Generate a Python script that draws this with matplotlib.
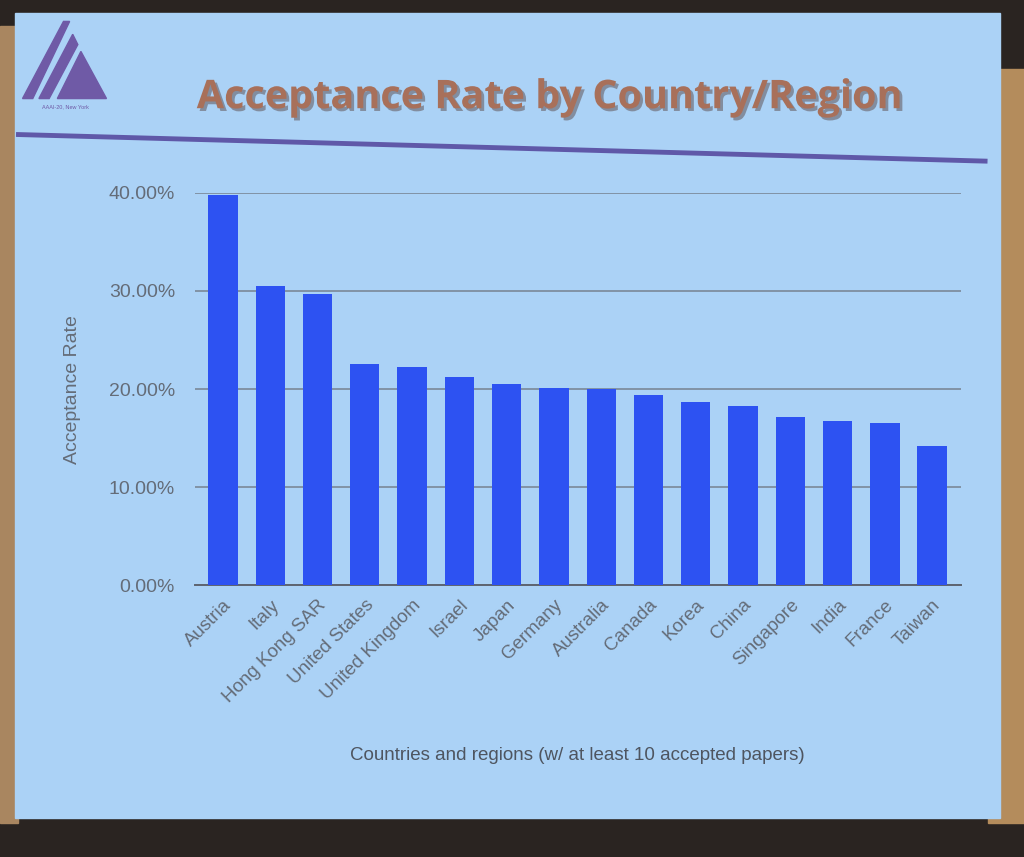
import matplotlib.pyplot as plt
import matplotlib.patches as mpatches
from matplotlib.ticker import FuncFormatter
import matplotlib.patheffects as pe

countries = ["Austria", "Italy", "Hong Kong SAR", "United States", "United Kingdom",
             "Israel", "Japan", "Germany", "Australia", "Canada", "Korea", "China",
             "Singapore", "India", "France", "Taiwan"]
rates = [39.8, 30.5, 29.7, 22.6, 22.3, 21.2, 20.5, 20.1, 20.0, 19.4, 18.7, 18.3,
         17.2, 16.7, 16.5, 14.2]
y_ticks = [0, 10, 20, 30, 40]

slide_bg = "#abd2f6"
text_gray = "#646c78"

plt.rcParams['font.family'] = ['Liberation Sans', 'DejaVu Sans']

fig = plt.figure(figsize=(10.24, 8.57), dpi=100)
fig.patch.set_facecolor("#2a2421")

# room edges and the projected slide
fig.add_artist(mpatches.Rectangle((0, 0.04), 0.018, 0.93, transform=fig.transFigure,
                                  color="#a98660", zorder=0))
fig.add_artist(mpatches.Rectangle((0.965, 0.04), 0.035, 0.88, transform=fig.transFigure,
                                  color="#b48c5c", zorder=0))
fig.add_artist(mpatches.Rectangle((0.015, 0.045), 0.962, 0.94, transform=fig.transFigure,
                                  color=slide_bg, zorder=1))

# logo: striped triangle
logo_col = "#6f5aa6"
for poly in ([(0.022, 0.885), (0.062, 0.975), (0.068, 0.975), (0.032, 0.885)],
             [(0.038, 0.885), (0.071, 0.960), (0.076, 0.948), (0.048, 0.885)],
             [(0.056, 0.885), (0.079, 0.940), (0.104, 0.885)]):
    fig.add_artist(mpatches.Polygon(poly, closed=True, transform=fig.transFigure,
                                    color=logo_col, zorder=2))
fig.text(0.064, 0.875, "AAAI-20, New York", fontsize=4, color=logo_col,
         ha="center", va="center", zorder=3)

# title and rule
fig.text(0.537, 0.886, "Acceptance Rate by Country/Region", fontsize=28.5,
         fontweight="bold", family=["Open Sans", "DejaVu Sans"], color="#a8705a",
         ha="center", va="center", zorder=3,
         path_effects=[pe.withSimplePatchShadow(offset=(2, -2), shadow_rgbFace="#5a4a4a",
                                                alpha=0.5)])
fig.add_artist(plt.Line2D([0.018, 0.962], [0.843, 0.812], transform=fig.transFigure,
                          color="#5f58a8", linewidth=3.5, zorder=3))

ax = fig.add_axes([0.19, 0.317, 0.748, 0.458])
ax.set_facecolor("none")
ax.set_zorder(4)
x = range(len(countries))
ax.bar(x, rates, width=0.62, color="#2d52f2", zorder=3)
ax.set_ylim(0, 40)
ax.set_xlim(-0.6, len(countries) - 0.4)
ax.set_yticks(y_ticks)
ax.yaxis.set_major_formatter(FuncFormatter(lambda v, p: f"{v:.2f}%"))
ax.grid(axis="y", color="#76828f", linewidth=1.1, zorder=0)
ax.set_xticks(list(x))
ax.set_xticklabels(countries, rotation=45, ha="right", rotation_mode="anchor",
                   fontsize=13.5, color=text_gray)
ax.tick_params(axis="y", labelsize=14, labelcolor=text_gray, length=0, pad=14)
ax.tick_params(axis="x", length=0, pad=8)
for side in ["top", "right", "left"]:
    ax.spines[side].set_visible(False)
ax.spines["bottom"].set_color("#5d6470")
ax.spines["bottom"].set_linewidth(1.4)
ax.set_ylabel("Acceptance Rate", fontsize=14, color=text_gray, labelpad=20)
ax.set_xlabel("Countries and regions (w/ at least 10 accepted papers)", fontsize=13.5,
              color="#4e5560", labelpad=30)

fig.savefig("out.png", dpi=100, facecolor=fig.get_facecolor())
